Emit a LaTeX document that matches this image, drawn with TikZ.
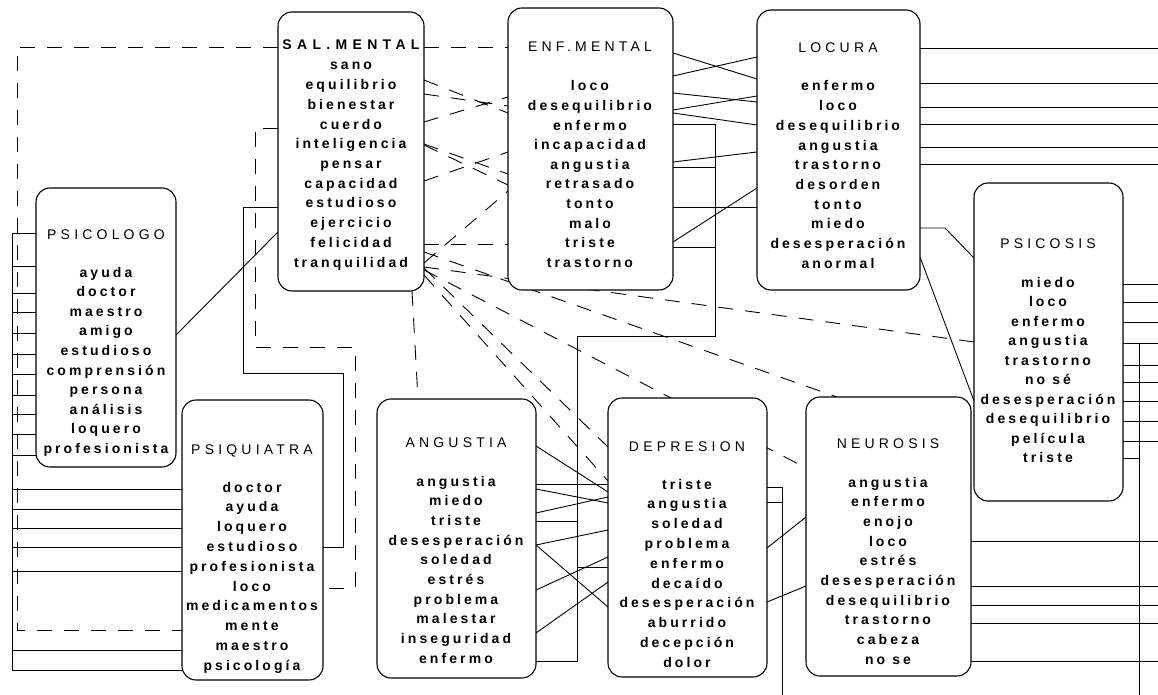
\documentclass[tikz,border=0pt]{standalone}
\usepackage{fontspec}
\setmainfont{Liberation Sans}
\newfontfamily\wordfont[LetterSpace=22]{Liberation Sans}
\newfontfamily\headfont[LetterSpace=30]{Liberation Sans}
\newfontfamily\salfont[LetterSpace=38]{Liberation Sans}
\pgfdeclarelayer{paper}
\pgfdeclarelayer{wires}
\pgfsetlayers{paper,wires,main}
\tikzset{
  panel/.style={draw, line width=1.1pt, rounded corners=14pt, fill=white, inner sep=0pt, outer sep=0pt},
  headtext/.style={font=\headfont\fontsize{14}{16}\selectfont, inner sep=0pt},
  wordtext/.style={font=\wordfont\bfseries\fontsize{14}{16}\selectfont, inner sep=0pt},
  link/.style={line width=0.9pt},
  dlink/.style={line width=0.9pt, dash pattern=on 15pt off 12pt},
}
% rounded frame: name, x1, y1, x2, y2
\newcommand\panel[5]{%
  \node[panel, minimum width={#4-#2}, minimum height={#5-#3}] (#1) at ({(#2+#4)/2},{(#3+#5)/2}) {};}
% words of a frame: name, centre x, title baseline, first word baseline, step, title, words
\newcommand\panelwords[7]{%
  \node[headtext, anchor=base] (#1-t) at (#2,#3) {#6};
  \foreach \w [count=\i] in {#7}
    \node[wordtext, anchor=base] (#1-\i) at (#2,{#4+(\i-1)*#5}) {\w};}
\begin{document}
\begin{tikzpicture}[x=1pt,y=-1pt]
\begin{pgfonlayer}{paper}
  \fill[white] (0,0) rectangle (1158,695);
\end{pgfonlayer}
\useasboundingbox (0,0) rectangle (1158,695);
\coordinate (rim) at (1158,695);

\panel{sal}{278}{12}{424}{291}
\panel{enf}{508}{8}{673}{290}
\panel{loc}{757}{10}{920}{290}
\panel{psis}{974}{183}{1123}{501}
\panel{plog}{36}{188}{176}{467}
\panel{psiq}{182}{400}{323}{680}
\panel{ang}{377}{399}{536}{678}
\panel{dep}{608}{398}{767}{677}
\panel{neu}{806}{397}{971}{676}

\begin{pgfonlayer}{wires}
  % dashed links leaving SAL.MENTAL
  \draw[dlink] (sal.west |- 0,47) -- (17,47) -- (17,630) -- (psiq.west |- 0,630);
  \draw[dlink] (sal.east |- 0,47) -- (enf.west |- 0,47);
  \draw[dlink] (sal.west |- 0,128) -- (255,128) -- (255,347) -- (355,347) -- (355,588) -- (psiq.east |- 0,588);
  \foreach \a/\b in {80/113, 94/106, 122/97, 144/174, 145/185, 181/152, 263/191, 244/244}
    \draw[dlink] (sal.east |- 0,\a) -- (enf.west |- 0,\b);
  \draw[dlink] (sal.east |- 0,252) -- (neu.north -| 837,0);
  \draw[dlink] (sal.east |- 0,267) -- (psis.west |- 0,342);
  \draw[dlink] (sal.east |- 0,270) -- (neu.west |- 0,468);
  \draw[dlink] (sal.east |- 0,275) -- (dep.west |- 0,481);
  \draw[dlink] (sal.east |- 0,268) -- (dep.west |- 0,447);
  \draw[dlink] (sal.south -| 412,0) -- (ang.north -| 418,0);

  % solid links of SAL.MENTAL
  \draw[link] (sal.west |- 0,207) -- (243,207) -- (243,373) -- (343,373) -- (343,547) -- (psiq.east |- 0,547);
  \draw[link] (sal.west |- 0,232) -- (plog.east |- 0,335);

  % ENF.MENTAL to LOCURA
  \foreach \a/\b in {53/79, 76/57, 93/102, 110/96, 113/125, 162/152, 242/188, 207/207}
    \draw[link] (enf.east |- 0,\a) -- (loc.west |- 0,\b);
  % ENF.MENTAL down to ANGUSTIA and DEPRESION
  \draw[link] (enf.east |- 0,124) -- (715,124) -- (715,336) -- (577,336) -- (577,661) -- (ang.east |- 0,661);
  \draw[link] (enf.east |- 0,167) -- (715,167);
  \draw[link] (enf.east |- 0,247) -- (715,247);
  \draw[link] (ang.east |- 0,521) -- (577,521);
  \draw[link] (577,567) -- (dep.west |- 0,567);

  % ANGUSTIA to DEPRESION
  \foreach \a/\b in {446/492, 484/484, 489/503, 513/497, 545/530, 545/607, 590/557, 633/582}
    \draw[link] (ang.east |- 0,\a) -- (dep.west |- 0,\b);

  % DEPRESION onwards
  \draw[link] (dep.east |- 0,487) -- (782,487) -- (rim -| 782,0);
  \draw[link] (dep.east |- 0,502) -- (782,502);
  \draw[link] (dep.east |- 0,548) -- (neu.west |- 0,517);
  \draw[link] (dep.east |- 0,602) -- (neu.west |- 0,586);

  % NEUROSIS, PSICOSIS and LOCURA to the right margin
  \foreach \y in {541,586,605,623,661}
    \draw[link] (neu.east |- 0,\y) -- (rim |- 0,\y);
  \draw[link] (1139,343) -- (rim -| 1139,0);
  \foreach \y in {284,302,322,343,365,382,401,421,441}
    \draw[link] (psis.east |- 0,\y) -- (rim |- 0,\y);
  \draw[link] (psis.east |- 0,458) -- (1139,458);
  \foreach \y in {48,83,107,124,147,164}
    \draw[link] (loc.east |- 0,\y) -- (rim |- 0,\y);
  \draw[link] (loc.east |- 0,228) -- (945,228) -- (psis.west |- 0,258);
  \draw[link] (loc.east |- 0,257) -- (psis.west |- 0,401);

  % left bus joining PSICOLOGO and PSIQUIATRA
  \draw[link] (12,233) -- (12,670);
  \foreach \y in {233,266,293,312,333,354,374,395,414,434,455}
    \draw[link] (12,\y) -- (plog.west |- 0,\y);
  \foreach \y in {489,509,528,547,571,650,670}
    \draw[link] (12,\y) -- (psiq.west |- 0,\y);
\end{pgfonlayer}

\panelwords{sal}{351}{50}{70}{19.7}{\salfont\bfseries SAL.MENTAL}{sano,equilibrio,bienestar,cuerdo,inteligencia,pensar,capacidad,estudioso,ejercicio,felicidad,tranquilidad}
\panelwords{enf}{590}{52}{91}{19.6}{ENF.MENTAL}{loco,desequilibrio,enfermo,incapacidad,angustia,retrasado,tonto,malo,triste,trastorno}
\panelwords{loc}{838}{53}{91}{19.7}{LOCURA}{enfermo,loco,desequilibrio,angustia,trastorno,desorden,tonto,miedo,desesperación,anormal}
\panelwords{psis}{1048}{248}{287}{19.5}{PSICOSIS}{miedo,loco,enfermo,angustia,trastorno,no sé,desesperación,desequilibrio,película,triste}
\panelwords{plog}{106}{239}{277}{19.6}{PSICOLOGO}{ayuda,doctor,maestro,amigo,estudioso,comprensión,persona,análisis,loquero,profesionista}
\panelwords{psiq}{252}{454}{492}{19.8}{PSIQUIATRA}{doctor,ayuda,loquero,estudioso,profesionista,loco,medicamentos,mente,maestro,psicología}
\panelwords{ang}{456}{447}{486}{19.7}{ANGUSTIA}{angustia,miedo,triste,desesperación,soledad,estrés,problema,malestar,inseguridad,enfermo}
\panelwords{dep}{687}{451}{489}{19.8}{DEPRESION}{triste,angustia,soledad,problema,enfermo,decaído,desesperación,aburrido,decepción,dolor}
\panelwords{neu}{888}{448}{487}{19.7}{NEUROSIS}{angustia,enfermo,enojo,loco,estrés,desesperación,desequilibrio,trastorno,cabeza,no se}
\end{tikzpicture}
\end{document}
